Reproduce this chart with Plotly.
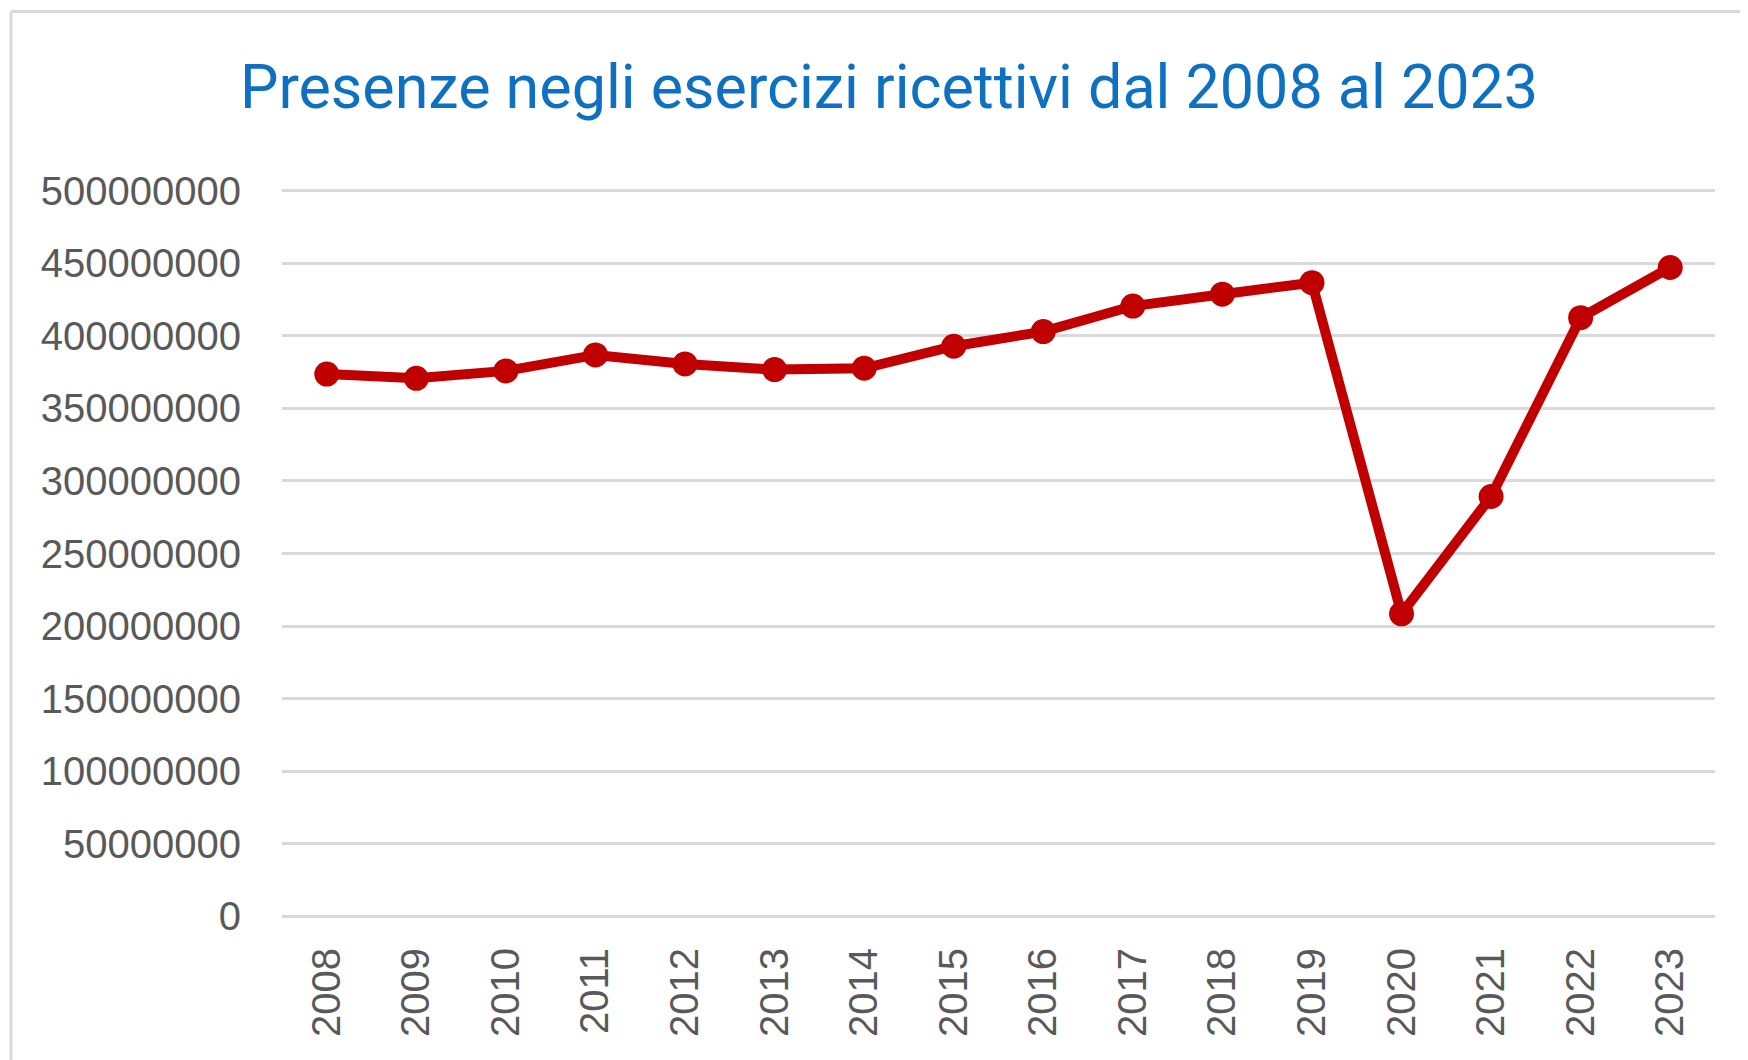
import plotly.graph_objects as go

years = ["2008", "2009", "2010", "2011", "2012", "2013", "2014", "2015",
         "2016", "2017", "2018", "2019", "2020", "2021", "2022", "2023"]
presenze = [373700000, 370800000, 375900000, 386900000, 380700000, 376800000,
            377700000, 392900000, 403000000, 420600000, 428800000, 436700000,
            208400000, 289300000, 412600000, 447200000]
y_ticks = [0, 50000000, 100000000, 150000000, 200000000, 250000000,
           300000000, 350000000, 400000000, 450000000, 500000000]
title_text = "Presenze negli esercizi ricettivi dal 2008 al 2023"

W, H = 1748, 1060
OFF = 8  # default page body margin
# target plot area in page pixels
PX0, PX1 = 282, 1715
PY500, PY0 = 190.6, 916.4
YPAD = 2e6
ppm = (PY0 - PY500) / 500e6
pad_px = YPAD * ppm

L = PX0 - OFF
R = OFF + W - PX1
T = PY500 - pad_px - OFF
B = H + OFF - (PY0 + pad_px)

fig = go.Figure()
fig.add_trace(go.Scatter(
    x=years, y=presenze, mode="lines+markers",
    line=dict(color="#C00000", width=10),
    marker=dict(color="#C00000", size=25),
    showlegend=False,
))

pw = W - L - R
ph = H - T - B
bx = (11 - OFF - L) / pw
by = (H - B - (11 - OFF)) / ph

fig.update_layout(
    width=W, height=H,
    margin=dict(l=L, r=R, t=T, b=B, pad=0),
    paper_bgcolor="white", plot_bgcolor="white",
    title=dict(text=title_text, x=(889 - OFF) / W, xanchor="center", xref="container",
               y=1 - (87 - OFF) / H, yanchor="middle", yref="container",
               font=dict(family="Roboto", size=61, color="#0E70C0")),
    xaxis=dict(
        type="category", range=[-0.5, len(years) - 0.5], tickangle=-90,
        showgrid=False, zeroline=False,
        showline=False, ticks="outside", ticklen=12, tickcolor="rgba(0,0,0,0)",
        tickfont=dict(family="Liberation Sans", size=40, color="#595959"),
    ),
    yaxis=dict(
        range=[-YPAD, 500e6 + YPAD], tickvals=y_ticks,
        ticktext=[str(v) for v in y_ticks],
        showgrid=True, gridcolor="#D9D9D9", gridwidth=3, zeroline=False,
        showline=False, ticks="outside", ticklen=32, tickcolor="rgba(0,0,0,0)",
        tickfont=dict(family="Liberation Sans", size=40, color="#595959"),
    ),
    shapes=[
        dict(type="line", xref="paper", yref="paper", x0=bx, x1=bx, y0=by, y1=-0.5,
             line=dict(color="#D9D9D9", width=3)),
        dict(type="line", xref="paper", yref="paper", x0=bx, x1=1.2, y0=by, y1=by,
             line=dict(color="#D9D9D9", width=3)),
    ],
)

fig.write_html("out.html")
